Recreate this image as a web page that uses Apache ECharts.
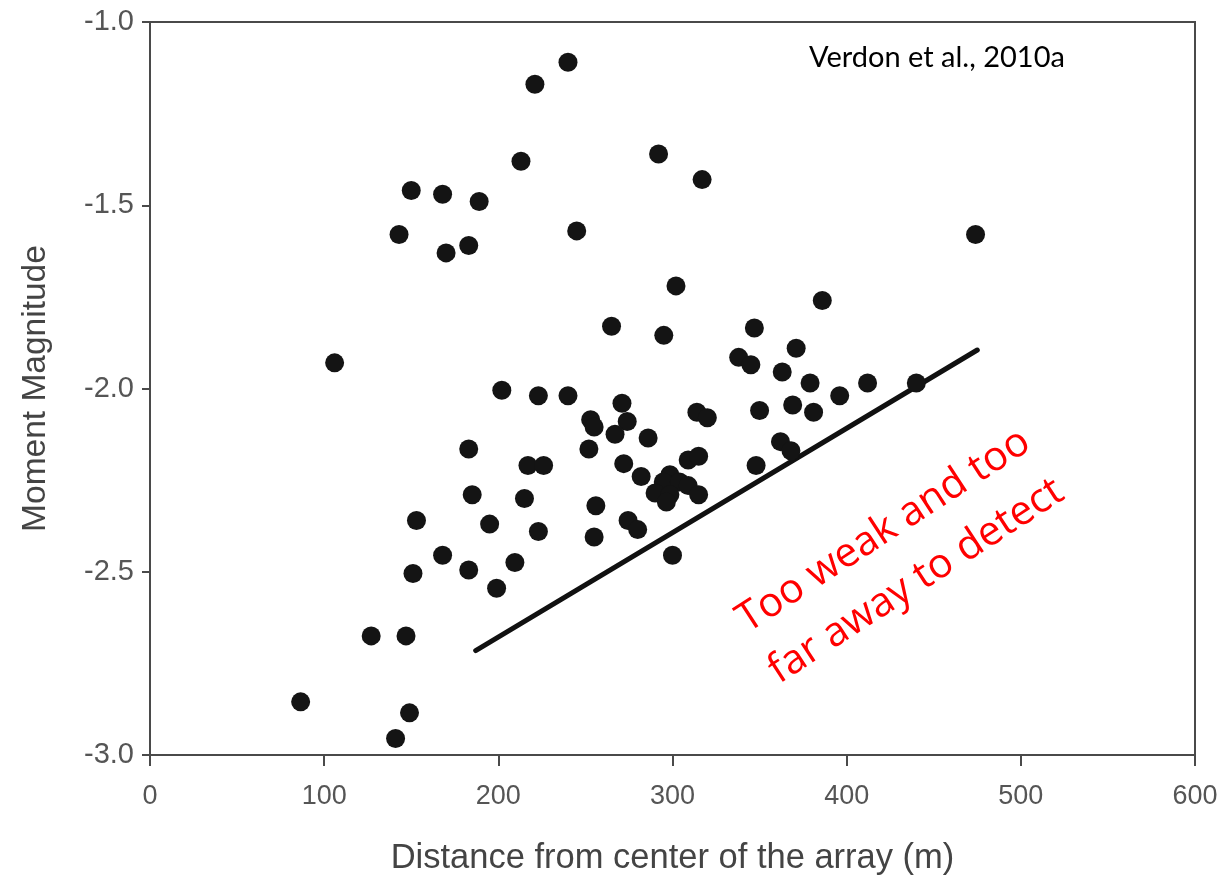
<!DOCTYPE html>
<html>
<head>
<meta charset="utf-8">
<script src="https://cdn.jsdelivr.net/npm/echarts@6/dist/echarts.min.js"></script>
<style>
  html, body { margin: 0; padding: 0; background: #fff; }
  #chart { width: 1228px; height: 878px; }
</style>
</head>
<body>
<div id="chart"></div>
<script>
// Distance of each event from the array centre (m)
const distance = [
  240, 221, 213, 150, 168, 189, 143, 170, 183, 245,
  292, 317, 302, 474, 106, 265, 295, 347, 386, 338,
  345, 371, 363, 379, 396, 412, 440, 202, 223, 240,
  271, 253, 255, 274, 267, 286, 252, 314, 320, 350,
  369, 381, 362, 368, 348, 183, 217, 226, 272, 282,
  309, 315, 298.5, 294.7, 304, 309, 290, 298.5, 315, 296.5,
  185, 215, 256, 195, 223, 255, 274.5, 280, 300, 168,
  183, 209.5, 199, 153, 151, 127, 147, 86.5, 149, 141
];
// Moment magnitude of each event
const magnitude = [
  -1.11, -1.17, -1.38, -1.46, -1.47, -1.49, -1.58, -1.63, -1.61, -1.57,
  -1.36, -1.43, -1.72, -1.58, -1.93, -1.83, -1.855, -1.835, -1.76, -1.915,
  -1.935, -1.89, -1.955, -1.985, -2.02, -1.985, -1.985, -2.005, -2.02, -2.02,
  -2.04, -2.085, -2.105, -2.09, -2.125, -2.135, -2.165, -2.065, -2.08, -2.06,
  -2.045, -2.065, -2.145, -2.17, -2.21, -2.165, -2.21, -2.21, -2.205, -2.24,
  -2.195, -2.185, -2.235, -2.255, -2.255, -2.265, -2.285, -2.29, -2.29, -2.31,
  -2.29, -2.30, -2.32, -2.37, -2.39, -2.405, -2.36, -2.385, -2.455, -2.455,
  -2.495, -2.475, -2.545, -2.36, -2.505, -2.675, -2.675, -2.855, -2.885, -2.955
];
// Detection threshold line end points
const thresholdX = [187, 475];
const thresholdY = [-2.715, -1.895];

const xTicks = [0, 100, 200, 300, 400, 500, 600];
const yTicks = [-3.0, -2.5, -2.0, -1.5, -1.0];

const points = distance.map((d, i) => [d, magnitude[i]]);
const threshold = thresholdX.map((d, i) => [d, thresholdY[i]]);

const chart = echarts.init(document.getElementById('chart'), null, { renderer: 'canvas' });

const axisColor = '#4a4a4a';
const labelColor = '#555';

chart.setOption({
  backgroundColor: '#fff',
  animation: false,
  grid: {
    left: 150, right: 33, top: 22, bottom: 123,
    outerBoundsMode: 'none',
    containLabel: false,
    show: true, borderColor: axisColor, borderWidth: 2, backgroundColor: 'transparent'
  },
  xAxis: {
    type: 'value',
    min: xTicks[0], max: xTicks[xTicks.length - 1], interval: 100,
    name: 'Distance from center of the array (m)',
    nameLocation: 'middle', nameGap: 86,
    nameTextStyle: { fontFamily: 'Liberation Sans', fontSize: 34.5, color: '#444' },
    axisLine: { lineStyle: { color: axisColor, width: 2 } },
    axisTick: { show: true, inside: false, length: 11, lineStyle: { color: axisColor, width: 2 } },
    axisLabel: { margin: 28, fontFamily: 'Liberation Sans', fontSize: 27, color: labelColor,
      formatter: v => String(v) },
    splitLine: { show: false }
  },
  yAxis: {
    type: 'value',
    min: yTicks[0], max: yTicks[yTicks.length - 1], interval: 0.5,
    name: 'Moment Magnitude',
    nameLocation: 'middle', nameGap: 97,
    nameTextStyle: { fontFamily: 'Liberation Sans', fontSize: 33.5, color: '#444' },
    axisLine: { lineStyle: { color: axisColor, width: 2 } },
    axisTick: { show: true, inside: false, length: 8, lineStyle: { color: axisColor, width: 2 } },
    axisLabel: { margin: 16, fontFamily: 'Liberation Sans', fontSize: 29, color: labelColor,
      formatter: v => v.toFixed(1) },
    splitLine: { show: false }
  },
  series: [
    {
      type: 'line',
      data: threshold,
      symbol: 'none',
      lineStyle: { color: '#111', width: 5, cap: 'round' },
      z: 2
    },
    {
      type: 'scatter',
      data: points,
      symbol: 'circle',
      symbolSize: 19,
      itemStyle: { color: '#141414', opacity: 1 },
      z: 3
    }
  ],
  graphic: [
    {
      type: 'text',
      left: 809, top: 43,
      style: { text: 'Verdon et al., 2010a', fontFamily: 'Lato', fontSize: 29, fill: '#000' }
    },
    {
      type: 'text',
      x: 900, y: 556,
      rotation: 33 * Math.PI / 180,
      style: {
        text: 'Too weak and too\nfar away to detect',
        fontFamily: 'Open Sans', fontSize: 41, lineHeight: 60,
        fill: '#ff0000', align: 'center', verticalAlign: 'middle'
      }
    }
  ]
});
</script>
</body>
</html>
